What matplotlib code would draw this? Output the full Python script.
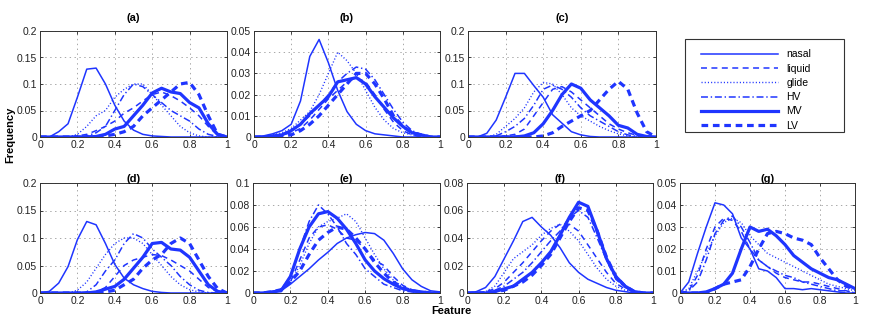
import matplotlib
matplotlib.use('Agg')
import matplotlib.pyplot as plt
import matplotlib.ticker as mticker
from matplotlib.patches import Rectangle

plt.rcParams['font.family'] = ['Liberation Sans', 'DejaVu Sans']
plt.rcParams['lines.scale_dashes'] = False

feature = [0, 0.05, 0.1, 0.15, 0.2, 0.25, 0.3, 0.35, 0.4, 0.45, 0.5,
           0.55, 0.6, 0.65, 0.7, 0.75, 0.8, 0.85, 0.9, 0.95, 1]
classes = ['nasal', 'liquid', 'glide', 'HV', 'MV', 'LV']

# (a)
nasal_a = [0, 0, 0.01, 0.025, 0.075, 0.128, 0.13, 0.1, 0.06, 0.03, 0.013, 0.005, 0.002, 0.001, 0, 0, 0, 0, 0, 0, 0]
liquid_a = [0, 0, 0, 0, 0.002, 0.005, 0.012, 0.02, 0.03, 0.045, 0.055, 0.068, 0.08, 0.085, 0.078, 0.068, 0.055, 0.04, 0.02, 0.003, 0]
glide_a = [0, 0, 0, 0, 0.005, 0.02, 0.04, 0.05, 0.075, 0.09, 0.1, 0.1, 0.08, 0.06, 0.04, 0.02, 0.008, 0.002, 0, 0, 0]
hv_a = [0, 0, 0, 0, 0, 0.002, 0.008, 0.02, 0.05, 0.08, 0.1, 0.095, 0.08, 0.065, 0.05, 0.04, 0.03, 0.015, 0.005, 0.001, 0]
mv_a = [0, 0, 0, 0, 0, 0, 0.001, 0.005, 0.015, 0.02, 0.04, 0.06, 0.083, 0.092, 0.085, 0.082, 0.065, 0.055, 0.025, 0.005, 0]
lv_a = [0, 0, 0, 0, 0, 0, 0, 0.002, 0.005, 0.01, 0.02, 0.04, 0.055, 0.07, 0.085, 0.1, 0.103, 0.08, 0.04, 0.005, 0]

# (b)
nasal_b = [0, 0.0005, 0.0015, 0.003, 0.006, 0.017, 0.038, 0.046, 0.035, 0.022, 0.012, 0.006, 0.003, 0.0015, 0.001, 0.0005, 0, 0, 0, 0, 0]
liquid_b = [0, 0, 0.0005, 0.001, 0.002, 0.004, 0.008, 0.013, 0.018, 0.022, 0.026, 0.028, 0.026, 0.02, 0.013, 0.007, 0.003, 0.001, 0, 0, 0]
glide_b = [0, 0, 0.001, 0.002, 0.004, 0.008, 0.012, 0.02, 0.03, 0.04, 0.036, 0.03, 0.022, 0.014, 0.008, 0.004, 0.002, 0.001, 0, 0, 0]
hv_b = [0, 0, 0.0005, 0.001, 0.003, 0.006, 0.01, 0.015, 0.02, 0.026, 0.03, 0.033, 0.032, 0.027, 0.02, 0.013, 0.007, 0.003, 0.001, 0, 0]
mv_b = [0, 0, 0.0005, 0.001, 0.003, 0.006, 0.011, 0.015, 0.019, 0.026, 0.027, 0.028, 0.025, 0.019, 0.014, 0.009, 0.005, 0.002, 0.001, 0, 0]
lv_b = [0, 0, 0, 0.0005, 0.001, 0.003, 0.006, 0.01, 0.015, 0.02, 0.025, 0.03, 0.03, 0.025, 0.018, 0.01, 0.005, 0.002, 0.001, 0, 0]

# (c)
nasal_c = [0, 0, 0.007, 0.032, 0.075, 0.12, 0.12, 0.097, 0.075, 0.042, 0.026, 0.01, 0.004, 0.001, 0, 0, 0, 0, 0, 0, 0]
liquid_c = [0, 0, 0, 0, 0.002, 0.005, 0.015, 0.04, 0.065, 0.09, 0.095, 0.085, 0.07, 0.055, 0.04, 0.025, 0.015, 0.008, 0.003, 0, 0]
glide_c = [0, 0, 0, 0.005, 0.02, 0.035, 0.055, 0.085, 0.103, 0.1, 0.08, 0.055, 0.04, 0.03, 0.02, 0.012, 0.006, 0.002, 0, 0, 0]
hv_c = [0, 0, 0, 0.002, 0.01, 0.02, 0.035, 0.06, 0.09, 0.098, 0.09, 0.075, 0.055, 0.04, 0.03, 0.02, 0.01, 0.004, 0.001, 0, 0]
mv_c = [0, 0, 0, 0, 0, 0, 0.002, 0.008, 0.025, 0.05, 0.08, 0.1, 0.092, 0.07, 0.055, 0.04, 0.022, 0.017, 0.005, 0.001, 0]
lv_c = [0, 0, 0, 0, 0, 0, 0, 0, 0.002, 0.008, 0.02, 0.03, 0.04, 0.05, 0.07, 0.09, 0.105, 0.09, 0.045, 0.01, 0]

# (d)
nasal_d = [0, 0.003, 0.018, 0.048, 0.097, 0.13, 0.124, 0.09, 0.052, 0.027, 0.015, 0.008, 0.003, 0.001, 0, 0, 0, 0, 0, 0, 0]
liquid_d = [0, 0, 0, 0, 0, 0, 0.002, 0.01, 0.03, 0.05, 0.06, 0.065, 0.07, 0.068, 0.06, 0.05, 0.04, 0.025, 0.01, 0.002, 0]
glide_d = [0, 0, 0, 0, 0.005, 0.02, 0.045, 0.07, 0.09, 0.1, 0.1, 0.09, 0.07, 0.05, 0.03, 0.015, 0.006, 0.002, 0, 0, 0]
hv_d = [0, 0, 0, 0, 0, 0.002, 0.015, 0.04, 0.06, 0.09, 0.108, 0.1, 0.08, 0.065, 0.05, 0.03, 0.015, 0.005, 0.001, 0, 0]
mv_d = [0, 0, 0, 0, 0, 0, 0.002, 0.007, 0.012, 0.025, 0.045, 0.065, 0.09, 0.092, 0.08, 0.078, 0.065, 0.04, 0.015, 0.003, 0]
lv_d = [0, 0, 0, 0, 0, 0, 0, 0.002, 0.005, 0.015, 0.025, 0.045, 0.06, 0.07, 0.09, 0.1, 0.09, 0.06, 0.03, 0.008, 0]

# (e)
nasal_e = [0, 0, 0.001, 0.002, 0.008, 0.015, 0.022, 0.03, 0.037, 0.045, 0.05, 0.053, 0.055, 0.054, 0.048, 0.036, 0.022, 0.012, 0.006, 0.002, 0.001]
liquid_e = [0, 0, 0.001, 0.003, 0.01, 0.03, 0.05, 0.06, 0.062, 0.058, 0.05, 0.048, 0.04, 0.03, 0.025, 0.015, 0.007, 0.003, 0.001, 0, 0]
glide_e = [0, 0, 0.001, 0.003, 0.01, 0.025, 0.045, 0.06, 0.065, 0.068, 0.072, 0.065, 0.05, 0.035, 0.022, 0.012, 0.005, 0.002, 0.001, 0, 0]
hv_e = [0, 0, 0.001, 0.003, 0.015, 0.04, 0.065, 0.08, 0.072, 0.06, 0.045, 0.035, 0.022, 0.015, 0.008, 0.005, 0.002, 0.001, 0, 0, 0]
mv_e = [0, 0, 0.001, 0.002, 0.015, 0.04, 0.06, 0.072, 0.074, 0.068, 0.058, 0.045, 0.03, 0.02, 0.013, 0.008, 0.004, 0.002, 0.001, 0, 0]
lv_e = [0, 0, 0.001, 0.003, 0.01, 0.02, 0.035, 0.048, 0.055, 0.06, 0.058, 0.05, 0.04, 0.028, 0.018, 0.01, 0.005, 0.002, 0.001, 0, 0]

# (f)
nasal_f = [0, 0.001, 0.004, 0.012, 0.025, 0.038, 0.052, 0.055, 0.048, 0.042, 0.033, 0.022, 0.015, 0.01, 0.007, 0.004, 0.002, 0.001, 0, 0, 0]
liquid_f = [0, 0, 0.001, 0.003, 0.008, 0.015, 0.022, 0.03, 0.038, 0.045, 0.05, 0.05, 0.045, 0.035, 0.025, 0.015, 0.007, 0.003, 0.001, 0, 0]
glide_f = [0, 0, 0.001, 0.005, 0.015, 0.025, 0.03, 0.035, 0.042, 0.047, 0.05, 0.045, 0.038, 0.028, 0.018, 0.01, 0.005, 0.002, 0.001, 0, 0]
hv_f = [0, 0, 0, 0.002, 0.005, 0.01, 0.015, 0.022, 0.03, 0.038, 0.045, 0.055, 0.06, 0.055, 0.04, 0.024, 0.01, 0.004, 0.001, 0, 0]
mv_f = [0, 0, 0, 0.001, 0.003, 0.005, 0.01, 0.015, 0.022, 0.03, 0.042, 0.055, 0.066, 0.063, 0.045, 0.025, 0.012, 0.005, 0.001, 0, 0]
lv_f = [0, 0, 0, 0.001, 0.002, 0.005, 0.008, 0.013, 0.02, 0.028, 0.04, 0.052, 0.062, 0.06, 0.045, 0.026, 0.012, 0.005, 0.001, 0, 0]

# (g)
nasal_g = [0, 0.005, 0.018, 0.03, 0.041, 0.04, 0.036, 0.025, 0.02, 0.011, 0.01, 0.007, 0.002, 0.002, 0.0015, 0.002, 0.0015, 0.001, 0.0005, 0, 0]
liquid_g = [0, 0.001, 0.008, 0.02, 0.03, 0.034, 0.033, 0.028, 0.02, 0.015, 0.012, 0.009, 0.007, 0.006, 0.005, 0.005, 0.004, 0.003, 0.002, 0.001, 0]
glide_g = [0, 0.002, 0.01, 0.018, 0.026, 0.032, 0.034, 0.032, 0.026, 0.022, 0.018, 0.016, 0.014, 0.012, 0.01, 0.008, 0.006, 0.004, 0.003, 0.002, 0.001]
hv_g = [0, 0.001, 0.005, 0.015, 0.027, 0.033, 0.035, 0.03, 0.023, 0.015, 0.012, 0.01, 0.008, 0.007, 0.005, 0.004, 0.003, 0.002, 0.001, 0.001, 0]
mv_g = [0, 0, 0, 0.0005, 0.002, 0.004, 0.009, 0.02, 0.03, 0.028, 0.029, 0.026, 0.022, 0.017, 0.014, 0.011, 0.009, 0.007, 0.006, 0.004, 0.002]
lv_g = [0, 0, 0, 0, 0.002, 0.004, 0.005, 0.006, 0.012, 0.02, 0.027, 0.028, 0.027, 0.025, 0.024, 0.022, 0.016, 0.011, 0.006, 0.003, 0.002]

panels = [
    ('(a)', 0.2, 0.05, [nasal_a, liquid_a, glide_a, hv_a, mv_a, lv_a]),
    ('(b)', 0.05, 0.01, [nasal_b, liquid_b, glide_b, hv_b, mv_b, lv_b]),
    ('(c)', 0.2, 0.05, [nasal_c, liquid_c, glide_c, hv_c, mv_c, lv_c]),
    ('(d)', 0.2, 0.05, [nasal_d, liquid_d, glide_d, hv_d, mv_d, lv_d]),
    ('(e)', 0.1, 0.02, [nasal_e, liquid_e, glide_e, hv_e, mv_e, lv_e]),
    ('(f)', 0.08, 0.02, [nasal_f, liquid_f, glide_f, hv_f, mv_f, lv_f]),
    ('(g)', 0.05, 0.01, [nasal_g, liquid_g, glide_g, hv_g, mv_g, lv_g]),
]

# axes boxes in pixels: left, right, top, bottom
W, H = 872, 319
boxes = [(40, 227, 31, 137), (254, 440, 31, 137), (468, 656, 31, 137),
         (40, 227, 183, 293), (253, 440, 183, 293), (467, 653, 183, 293),
         (680, 855, 183, 293)]

blue = '#1f35ff'
styles = [
    dict(lw=1.1, ls='-'),
    dict(lw=1.1, dashes=(4.3, 3.2)),
    dict(lw=1.0, dashes=(0.8, 1.5)),
    dict(lw=1.1, dashes=(5, 2, 1, 2)),
    dict(lw=2.3, ls='-'),
    dict(lw=2.3, dashes=(4.8, 3.4)),
]

fmt = mticker.FuncFormatter(lambda v, p: '%g' % round(v, 4))

fig = plt.figure(figsize=(W / 100, H / 100), dpi=100)
handles = []
for i, ((title, ymax, ystep, series), (l, r, t, b)) in enumerate(zip(panels, boxes)):
    ax = fig.add_axes([l / W, 1 - b / H, (r - l) / W, (b - t) / H])
    lines = []
    for ys, st in zip(series, styles):
        ln, = ax.plot(feature, ys, color=blue, **st)
        lines.append(ln)
    handles = lines
    ax.set_xlim(0, 1)
    ax.set_ylim(0, ymax)
    ax.set_xticks([0, 0.2, 0.4, 0.6, 0.8, 1])
    ax.yaxis.set_major_locator(mticker.MultipleLocator(ystep))
    ax.xaxis.set_major_formatter(fmt)
    ax.yaxis.set_major_formatter(fmt)
    ax.grid(True, color='#999999', ls=(0, (1, 2.5)), lw=0.6)
    ax.tick_params(direction='in', length=2.5, width=0.6, labelsize=7.5, pad=2,
                   top=True, right=True, colors='#222222')
    for s in ax.spines.values():
        s.set_linewidth(0.7)
        s.set_color('#333333')
    ax.set_title(title, fontsize=8, fontweight='bold', pad=7 if i < 3 else 1)

# legend box drawn by hand (matlab style wide frame)
fig.patches.append(Rectangle((685 / W, 1 - 132 / H), (844 - 685) / W, (132 - 39) / H,
                             transform=fig.transFigure, fill=False,
                             edgecolor='#333333', lw=0.8))
fig.legend(handles, classes, loc='upper left',
           bbox_to_anchor=(692 / W, 1 - 40 / H), bbox_transform=fig.transFigure,
           fontsize=7.5, handlelength=7.4, handletextpad=0.75, labelspacing=0.41,
           borderpad=0.4, frameon=False)

fig.text(10 / W, 1 - 135 / H, 'Frequency', rotation=90, ha='center', va='center',
         fontsize=8, fontweight='bold')
fig.text(451 / W, 1 - 311 / H, 'Feature', ha='center', va='center',
         fontsize=8, fontweight='bold')

fig.savefig('out.png', dpi=100)
